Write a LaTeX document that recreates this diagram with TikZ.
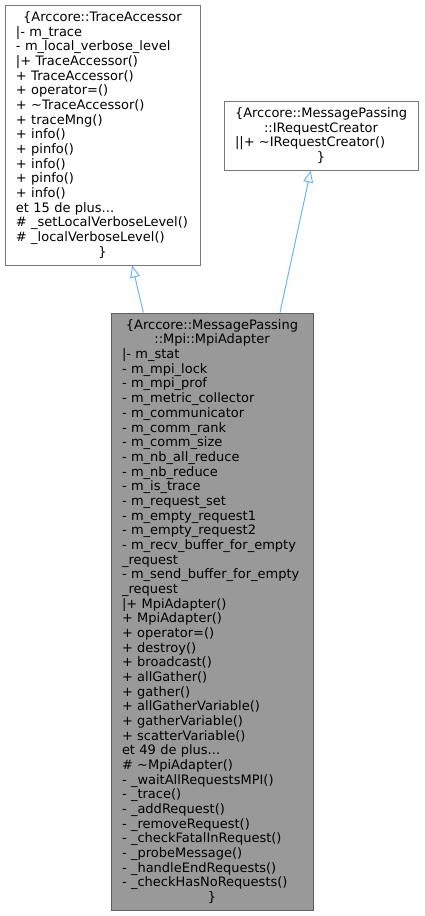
\documentclass[tikz,border=0pt]{standalone}
\usepackage{fontspec}
\setmainfont{DejaVu Sans}
\usetikzlibrary{arrows.meta}
\definecolor{edgeblue}{HTML}{63B8FF}
\definecolor{boxborder}{HTML}{777777}
\definecolor{focusfill}{HTML}{999999}
\newcommand\ctrline[1]{\leavevmode\hbox to\hsize{\hfil#1\hfil}}
\tikzset{
  classbox/.style={draw=boxborder, line width=1pt, fill=white, inner xsep=11pt, inner ysep=0pt,
    align=left, anchor=center, font=\fontsize{13}{14.67}\selectfont},
  focusbox/.style={classbox, draw=boxborder!80!black, fill=focusfill},
  inherit/.style={draw=edgeblue, line width=1pt, -{Triangle[open, length=12pt, width=10pt]}}
}
\begin{document}
\begin{tikzpicture}[x=1pt, y=-1pt]
\useasboundingbox (0,0) rectangle (424,916);
\node[classbox, text width=173pt, minimum height=260pt] (A) at (102.5,135) {%
\ctrline{\{Arccore::TraceAccessor}\\
|- m\_trace\\
- m\_local\_verbose\_level\\
|+ TraceAccessor()\\
+ TraceAccessor()\\
+ operator=()\\
+ \textasciitilde TraceAccessor()\\
+ traceMng()\\
+ info()\\
+ pinfo()\\
+ info()\\
+ pinfo()\\
+ info()\\
et 15 de plus...\\
\# \_setLocalVerboseLevel()\\
\# \_localVerboseLevel()\\
\ctrline{\}}};
\node[classbox, text width=172pt, minimum height=69pt] (B) at (321,135.5) {%
\ctrline{\{Arccore::MessagePassing}\\
\ctrline{::IRequestCreator}\\
||+ \textasciitilde IRequestCreator()\\
\ctrline{\}}};
\node[focusbox, text width=180pt, minimum height=597pt] (C) at (212,611.5) {%
\ctrline{\{Arccore::MessagePassing}\\
\ctrline{::Mpi::MpiAdapter}\\
|- m\_stat\\
- m\_mpi\_lock\\
- m\_mpi\_prof\\
- m\_metric\_collector\\
- m\_communicator\\
- m\_comm\_rank\\
- m\_comm\_size\\
- m\_nb\_all\_reduce\\
- m\_nb\_reduce\\
- m\_is\_trace\\
- m\_request\_set\\
- m\_empty\_request1\\
- m\_empty\_request2\\
- m\_recv\_buffer\_for\_empty\\
\_request\\
- m\_send\_buffer\_for\_empty\\
\_request\\
|+ MpiAdapter()\\
+ MpiAdapter()\\
+ operator=()\\
+ destroy()\\
+ broadcast()\\
+ allGather()\\
+ gather()\\
+ allGatherVariable()\\
+ gatherVariable()\\
+ scatterVariable()\\
et 49 de plus...\\
\# \textasciitilde MpiAdapter()\\
- \_waitAllRequestsMPI()\\
- \_trace()\\
- \_addRequest()\\
- \_removeRequest()\\
- \_checkFatalInRequest()\\
- \_probeMessage()\\
- \_handleEndRequests()\\
- \_checkHasNoRequests()\\
\ctrline{\}}};
\draw[inherit] ([xshift=-68.7pt]C.north) -- ([xshift=29.8pt]A.south);
\draw[inherit] ([xshift=68pt]C.north) -- ([xshift=-10.3pt]B.south);
\end{tikzpicture}
\end{document}
